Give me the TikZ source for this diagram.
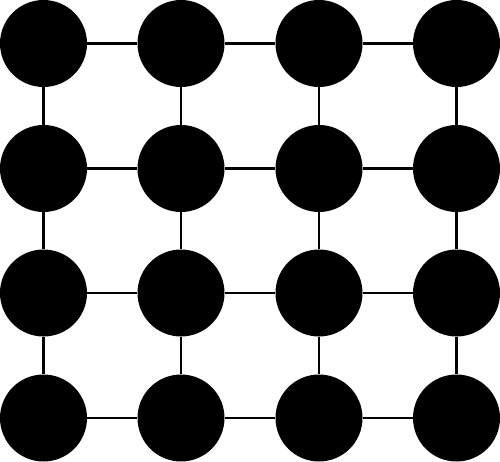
\documentclass[tikz,border=0pt]{standalone}
\begin{document}
\begin{tikzpicture}[x=1pt,y=-1pt,
  dot/.style={circle,fill=black,draw=none,minimum size=87pt,inner sep=0pt},
  link/.style={line width=2.6pt,draw=black}]
\useasboundingbox (0,0) rectangle (500,462);
\foreach \c/\x in {1/43.5,2/181,3/319,4/456.5}{
  \foreach \r/\y in {1/43.5,2/168.5,3/293,4/418}{
    \node[dot] (n\r\c) at (\x,\y) {};
  }
}
\foreach \r in {1,2,3,4}{
  \draw[link] (n\r1) -- (n\r2);
  \draw[link] (n\r2) -- (n\r3);
  \draw[link] (n\r3) -- (n\r4);
}
\foreach \c in {1,2,3,4}{
  \draw[link] (n1\c) -- (n2\c);
  \draw[link] (n2\c) -- (n3\c);
  \draw[link] (n3\c) -- (n4\c);
}
\end{tikzpicture}
\end{document}
